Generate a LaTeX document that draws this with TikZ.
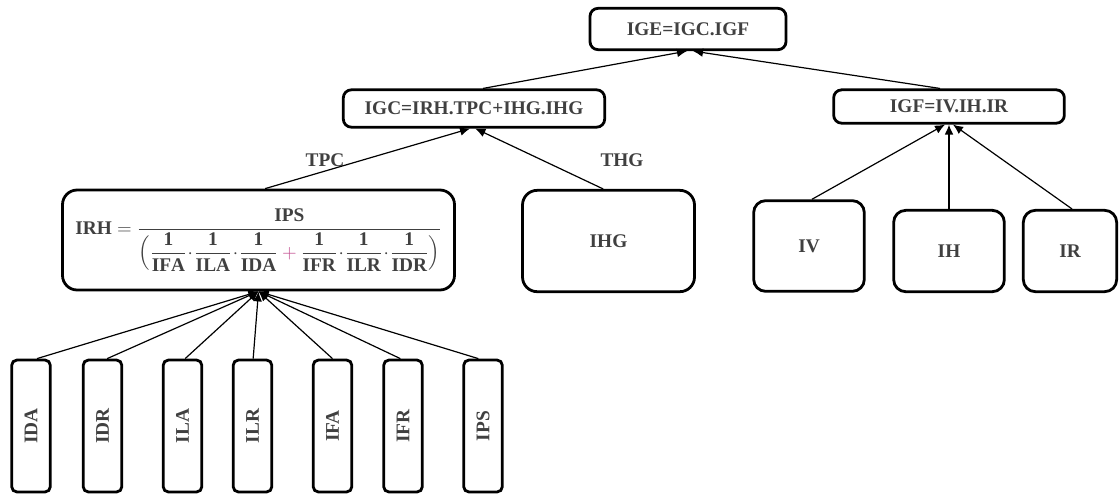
\documentclass[tikz,border=0pt]{standalone}
\usepackage{amsmath}
\usepackage{fontspec}
\setmainfont{Liberation Serif}
\usetikzlibrary{arrows.meta,positioning}
\definecolor{txt}{HTML}{404040}
\definecolor{plus}{HTML}{C04A8C}
\newcommand{\fr}[1]{\dfrac{\mathbf{1}}{\mathbf{#1}}}
\newcommand{\dt}{\mskip1mu{\cdot}\mskip1mu}
\begin{document}
\begin{tikzpicture}[x=0.75pt,y=-0.75pt,
  box/.style={draw=black,line width=2.1pt,rounded corners=6pt,text=txt,font=\bfseries\fontsize{14.5}{17}\selectfont,inner sep=0pt,align=center},
  vbox/.style={box,rounded corners=4pt,minimum width=29pt,minimum height=99pt},
  conn/.style={line width=0.9pt,-{Latex[length=7.5pt,width=6.5pt]}},
  lab/.style={text=txt,font=\bfseries\fontsize{14.5}{17}\selectfont}]
\useasboundingbox (0,0) rectangle (1120,494);
% top levels
\node[box,minimum width=147pt,minimum height=31pt] (IGE) at (688,29) {IGE=IGC.IGF};
\node[box,minimum width=196pt,minimum height=28pt] (IGC) at (474,108.5) {IGC=IRH.TPC+IHG.IHG};
\node[box,minimum width=173pt,minimum height=25pt] (IGF) at (949,106.5) {IGF=IV.IH.IR};
% middle level
\node[box,rounded corners=11pt,minimum width=294pt,minimum height=75pt,font=\bfseries\fontsize{14.5}{17}\selectfont] (IRH) at (258.5,240)
  {$\mathbf{IRH}=\dfrac{\mathbf{IPS}}{\Bigl(\fr{IFA}\dt\fr{ILA}\dt\fr{IDA}\mathbin{\color{plus}+}\fr{IFR}\dt\fr{ILR}\dt\fr{IDR}\Bigr)}$};
\node[box,rounded corners=11pt,minimum width=129pt,minimum height=76pt] (IHG) at (608.5,241) {IHG};
\node[box,rounded corners=9pt,minimum width=83pt,minimum height=68pt] (IV) at (809,246) {IV};
\node[box,rounded corners=9pt,minimum width=83pt,minimum height=61pt] (IH) at (949,251) {IH};
\node[box,rounded corners=9pt,minimum width=70pt,minimum height=61pt] (IR) at (1070,251) {IR};
% bottom level
\node[vbox] (IDA) at (31,426) {\rotatebox{90}{IDA}};
\node[vbox] (IDR) at (102.5,426) {\rotatebox{90}{IDR}};
\node[vbox] (ILA) at (182.5,426) {\rotatebox{90}{ILA}};
\node[vbox] (ILR) at (252.5,426) {\rotatebox{90}{ILR}};
\node[vbox] (IFA) at (332.5,426) {\rotatebox{90}{IFA}};
\node[vbox] (IFR) at (403,426) {\rotatebox{90}{IFR}};
\node[vbox] (IPS) at (483,426) {\rotatebox{90}{IPS}};
% labels
\node[lab] (TPC) at (325,160) {TPC};
\node[lab] (THG) at (622,160) {THG};
% connectors
\draw[conn] ([xshift=6.75pt]IGC.north) -- ([xshift=-0.75pt]IGE.south);
\draw[conn] ([xshift=-6.75pt]IGF.north) -- ([xshift=3.75pt]IGE.south);
\draw[conn] ([xshift=5pt]IRH.north) -- ([xshift=-3pt]IGC.south);
\draw[conn] ([xshift=-4pt]IHG.north) -- ([xshift=1pt]IGC.south);
\draw[conn] ([xshift=2.25pt]IV.north) -- ([xshift=-3pt]IGF.south);
\draw[conn] (IH.north) -- (IGF.south);
\draw[conn] ([xshift=1.5pt]IR.north) -- ([xshift=3pt]IGF.south);
\foreach \n/\s in {IDA/4.5,IDR/3.5,ILA/2,ILR/0.5,IFA/0,IFR/-2,IPS/-3.5}
  \draw[conn] ([xshift=\s pt]\n.north) -- (IRH.south);
\end{tikzpicture}
\end{document}
